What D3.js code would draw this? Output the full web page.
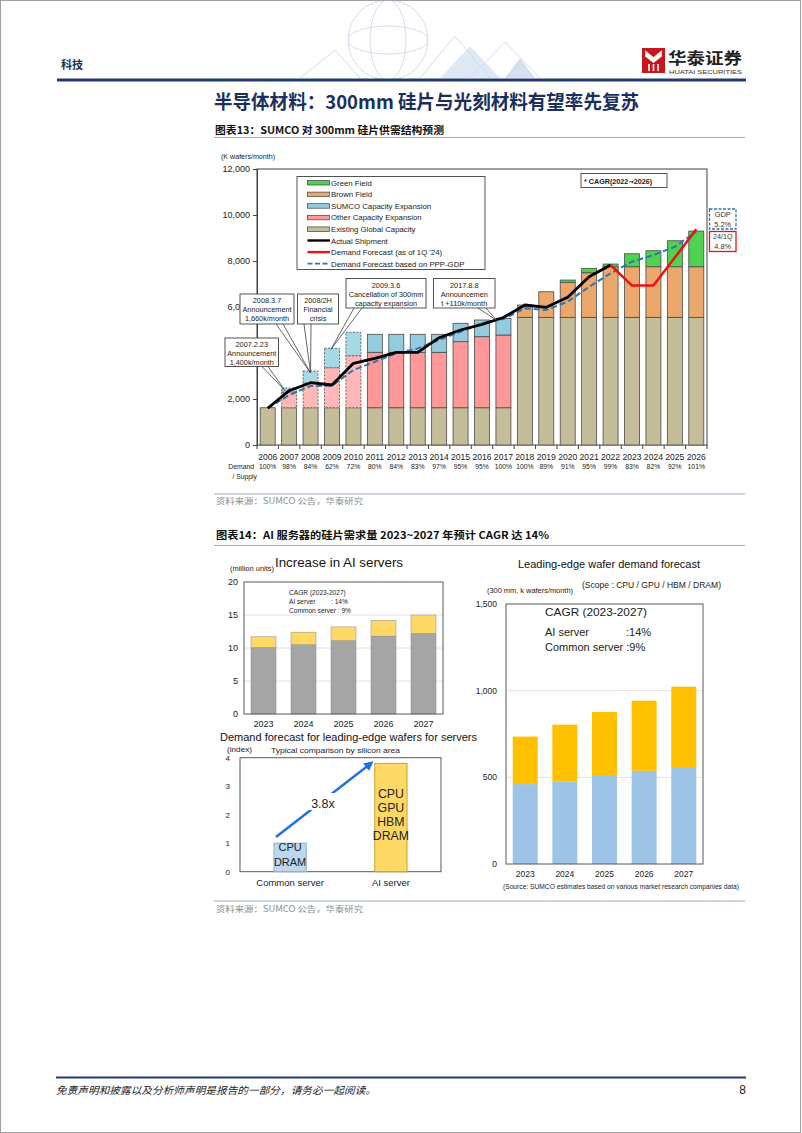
<!DOCTYPE html>
<html><head><meta charset="utf-8">
<script src="https://cdn.jsdelivr.net/npm/d3@7"></script>
<style>body{margin:0;background:#fff}svg{display:block}</style>
</head><body>
<svg id="page" width="802" height="1133"></svg>
<script>
// ---------------- DATA ----------------
// Figure 13: SUMCO 300mm supply/demand
const years = ["2006","2007","2008","2009","2010","2011","2012","2013","2014","2015","2016","2017","2018","2019","2020","2021","2022","2023","2024","2025","2026"];
const existingCapacity = [1620,1620,1620,1620,1620,1620,1620,1620,1620,1620,1620,1620,5550,5550,5550,5550,5550,5550,5550,5550,5550];
const otherExpansion   = [0,684,1076,1741,2263,2410,2410,2410,2410,2871,3089,3163,0,0,0,0,0,0,0,0,0];
const sumcoExpansion   = [0,174,521,843,1017,783,783,783,783,800,726,726,0,0,0,0,0,0,0,0,0];
const brownField       = [0,0,0,0,0,0,0,0,0,0,0,0,535,1113,1522,1939,2200,2200,2200,2200,2200];
const greenField       = [0,0,0,0,0,0,0,0,0,0,0,0,0,0,100,192,118,565,696,1131,1552];
const shipmentYears = ["2006","2007","2008","2009","2010","2011","2012","2013","2014","2015","2016","2017","2018","2019","2020","2021","2022"];
const actualShipment = [1596,2361,2709,2609,3552,3770,4030,4030,4665,5000,5248,5543,6087,5987,6422,7317,7826];
const forecastYears = ["2022","2023","2024","2025","2026"];
const forecast1Q24 = [7826,6930,6930,8150,9380];
const gdpForecast = [1600,2170,2565,2580,3260,3620,3985,4200,4565,4925,5290,5480,5940,5870,6230,6880,7465,7970,8260,8620,9275];
const demandSupply = ["100%","98%","84%","62%","72%","80%","84%","83%","97%","95%","95%","100%","100%","89%","91%","95%","99%","83%","82%","92%","101%"];
const dashedYears = ["2007","2008","2009","2010"];
const yTicks1 = [0,2000,4000,6000,8000,10000,12000];
const hiddenTicks1 = [4000,6000]; // covered by callout boxes in the original

// Figure 14
const aiYears = ["2023","2024","2025","2026","2027"];
const commonServers = [10.05,10.5,11.1,11.8,12.2];
const aiServers = [1.65,1.9,2.1,2.4,2.8];
const yTicksServers = [0,5,10,15,20];
const serverTypes = ["Common server","AI server"];
const siliconIndex = [1,3.8];
const yTicksIndex = [0,1,2,3,4];
const commonWafers = [461,477,508,538,554];
const aiWafers = [274,327,369,404,469];
const yTicksWafers = [0,500,1000,1500];

// ---------------- SETUP ----------------
const ARIAL = "Arial, 'Liberation Sans', Helvetica, sans-serif";
const NARROW = "'Liberation Sans Narrow', 'Arial Narrow', Arial, 'Liberation Sans', sans-serif";
const CJK = "'Noto Sans CJK SC', 'Noto Sans CJK TC', sans-serif";
const svg = d3.select("#page");
svg.append("rect").attr("x",0.5).attr("y",0.5).attr("width",800).attr("height",1132).attr("fill","#fff").attr("stroke","#a0a0a0");
const defs = svg.append("defs");

function txt(g, x, y, s, o={}) {
  const t = g.append("text").attr("x",x).attr("y",y).text(s)
    .attr("font-family", o.ff || ARIAL).attr("font-size", o.fs || 9)
    .attr("fill", o.fill || "#000").attr("text-anchor", o.anchor || "start");
  if (o.fw) t.attr("font-weight", o.fw);
  if (o.tl) t.attr("textLength", o.tl).attr("lengthAdjust","spacingAndGlyphs");
  if (o.style) t.attr("font-style", o.style);
  return t;
}

// ---------------- PAGE HEADER ----------------
const hdr = svg.append("g");
const deco = hdr.append("g").attr("opacity",0.45).attr("fill","none").attr("stroke","#9fb6d6").attr("stroke-width",1);
deco.append("circle").attr("cx",388).attr("cy",40).attr("r",40);
deco.append("ellipse").attr("cx",388).attr("cy",40).attr("rx",18).attr("ry",40);
deco.append("ellipse").attr("cx",388).attr("cy",40).attr("rx",40).attr("ry",14);
deco.append("path").attr("d","M300,78 L335,50 L360,78 M420,78 L455,36 L490,78 M470,78 L505,42 L540,78");
hdr.append("path").attr("d","M440,78 L470,46 L500,78 Z").attr("fill","#c9daf0").attr("opacity",0.6);
hdr.append("path").attr("d","M505,78 L520,58 L535,78 Z").attr("fill","#b7cbe6").attr("opacity",0.6);

txt(hdr, 61, 69, "科技", {ff:CJK, fs:11, fw:"bold", fill:"#1b2f5f"});
hdr.append("rect").attr("x",642).attr("y",48).attr("width",23).attr("height",25).attr("fill","#c8161d");
hdr.append("path").attr("d","M646,52 L653.5,58 L661,52 L661,56 L653.5,62 L646,56 Z M649,64 L649,71 M658,64 L658,71 M653.5,64 L653.5,71")
  .attr("fill","#fff").attr("stroke","#fff").attr("stroke-width",1.6);
txt(hdr, 668, 63.5, "华泰证券", {ff:CJK, fs:15.5, fw:"bold", fill:"#222", tl:74});
txt(hdr, 669, 74, "HUATAI SECURITIES", {fs:5.2, fill:"#333", tl:73});
hdr.append("line").attr("x1",57).attr("x2",746).attr("y1",80).attr("y2",80).attr("stroke","#1f3b70").attr("stroke-width",3);

txt(svg, 214, 109, "半导体材料：300mm 硅片与光刻材料有望率先复苏", {ff:CJK, fs:19, fw:"bold", fill:"#1b2f5f", tl:425});
txt(svg, 215, 133.5, "图表13：SUMCO 对 300mm 硅片供需结构预测", {ff:CJK, fs:10.5, fw:"bold", fill:"#111", tl:229});
const sep = (y)=> svg.append("line").attr("x1",214).attr("x2",745).attr("y1",y).attr("y2",y).attr("stroke","#9aabc4").attr("stroke-width",1);
sep(137.5); sep(494); sep(545.5); sep(901);
txt(svg, 216, 504, "资料来源：SUMCO 公告，华泰研究", {ff:CJK, fs:8.5, fill:"#8c8c8c", tl:147});
txt(svg, 216, 912, "资料来源：SUMCO 公告，华泰研究", {ff:CJK, fs:8.5, fill:"#8c8c8c", tl:147});
txt(svg, 216, 538.5, "图表14：AI 服务器的硅片需求量 2023~2027 年预计 CAGR 达 14%", {ff:CJK, fs:10.5, fw:"bold", fill:"#111", tl:333});

svg.append("line").attr("x1",56).attr("x2",746).attr("y1",1077.5).attr("y2",1077.5).attr("stroke","#1f3b70").attr("stroke-width",2.2);
txt(svg, 56, 1094, "免责声明和披露以及分析师声明是报告的一部分，请务必一起阅读。", {ff:CJK, fs:10, fill:"#222", style:"italic", tl:320});
txt(svg, 746, 1094, "8", {fs:12, anchor:"end", fill:"#222"});

// ---------------- FIGURE 13 ----------------
const c1 = svg.append("g");
const x1 = d3.scaleBand().domain(years).range([257,707]).paddingInner(0.3).paddingOuter(0.15);
const y1 = d3.scaleLinear().domain([0,12000]).range([445,169]);
const bw1 = x1.bandwidth();
const rows = years.map((yr,i)=>({year:yr, existing:existingCapacity[i], other:otherExpansion[i], sumco:sumcoExpansion[i], brown:brownField[i], green:greenField[i]}));
const keys = ["existing","other","sumco","brown","green"];
const colors1 = {existing:"#c4bd97", other:"#ff9999", sumco:"#93cddd", brown:"#eba76c", green:"#4fd24f"};
const planned = {other:"#ffb7b7", sumco:"#a6d8e6"};
const stacked = d3.stack().keys(keys)(rows);

c1.append("rect").attr("x",257).attr("y",169).attr("width",450).attr("height",276).attr("fill","none").attr("stroke","#404040").attr("stroke-width",1);

stacked.forEach(s=>{
  c1.append("g").selectAll("rect").data(s.filter(d=>d[1]-d[0]>0)).join("rect")
    .attr("x",d=>x1(d.data.year)).attr("width",bw1)
    .attr("y",d=>y1(d[1])).attr("height",d=>y1(d[0])-y1(d[1]))
    .attr("fill",d=>(planned[s.key] && dashedYears.includes(d.data.year)) ? planned[s.key] : colors1[s.key])
    .attr("stroke","#4a4a4a").attr("stroke-width",0.8)
    .attr("stroke-dasharray",d=>(planned[s.key] && dashedYears.includes(d.data.year)) ? "2,1.5" : null);
});

const yAx = c1.append("g").attr("transform","translate(257,0)")
  .call(d3.axisLeft(y1).tickValues(yTicks1).tickFormat(d=> hiddenTicks1.includes(d) ? "" : d3.format(",")(d)).tickSize(4).tickPadding(3));
yAx.select(".domain").attr("stroke","#404040");
yAx.selectAll("line").attr("stroke","#404040");
yAx.selectAll("text").attr("font-family",ARIAL).attr("font-size",9).attr("fill","#222");
// 6,000 label: only its visible part "6,0" shows beside the callout box
c1.append("text").attr("x",227.5).attr("y",y1(6000)).attr("dy","0.32em")
  .attr("font-family",ARIAL).attr("font-size",9).attr("fill","#222").text(d3.format(",")(6000).slice(0,3));

const bounds = years.map(yr=>x1(yr) - x1.step()*x1.paddingInner()/2).concat([707]);
c1.append("g").selectAll("line").data(bounds).join("line")
  .attr("x1",d=>d).attr("x2",d=>d).attr("y1",445).attr("y2",449).attr("stroke","#404040");
c1.append("g").selectAll("text").data(years).join("text")
  .attr("x",d=>x1(d)+bw1/2).attr("y",459.5).attr("text-anchor","middle")
  .attr("font-family",ARIAL).attr("font-size",8.6).attr("fill","#222").text(d=>d);
c1.append("g").selectAll("text").data(demandSupply).join("text")
  .attr("x",(d,i)=>x1(years[i])+bw1/2).attr("y",468.5).attr("text-anchor","middle")
  .attr("font-family",ARIAL).attr("font-size",6.8).attr("fill","#222").text(d=>d);
txt(c1, 254, 468.5, "Demand", {fs:6.8, anchor:"end", fill:"#222"});
txt(c1, 257, 479, "/ Supply", {fs:6.8, anchor:"end", fill:"#222"});
txt(c1, 221, 159, "(K wafers/month)", {fs:6.6, fill:"#222", tl:54});

const lineGen = d3.line().x(d=>x1(d[0])+bw1/2).y(d=>y1(d[1]));
c1.append("path").datum(years.map((yr,i)=>[yr,gdpForecast[i]])).attr("d",lineGen)
  .attr("fill","none").attr("stroke","#2e75b6").attr("stroke-width",2).attr("stroke-dasharray","6,3");
c1.append("path").datum(shipmentYears.map((yr,i)=>[yr,actualShipment[i]])).attr("d",lineGen)
  .attr("fill","none").attr("stroke","#000").attr("stroke-width",2.8).attr("stroke-linejoin","round");
c1.append("path").datum(forecastYears.map((yr,i)=>[yr,forecast1Q24[i]])).attr("d",lineGen)
  .attr("fill","none").attr("stroke","#ee1111").attr("stroke-width",2.5).attr("stroke-linejoin","round");

// legend
const lg = c1.append("g");
lg.append("rect").attr("x",297).attr("y",176.5).attr("width",188).attr("height",93).attr("fill","#fff").attr("stroke","#404040").attr("stroke-width",0.9);
const legendItems = [
  ["Green Field","rect",colors1.green],["Brown Field","rect",colors1.brown],["SUMCO Capacity Expansion","rect",colors1.sumco],
  ["Other Capacity Expansion","rect",colors1.other],["Existing Global Capacity","rect",colors1.existing],
  ["Actual Shipment","line","#000"],["Demand Forecast (as of 1Q '24)","line","#ee1111"],["Demand Forecast based on PPP-GDP","dash","#2e75b6"]];
legendItems.forEach((it,i)=>{
  const yy = 182.5 + i*11.6;
  if (it[1]==="rect") lg.append("rect").attr("x",307.5).attr("y",yy-2).attr("width",22).attr("height",4.5).attr("fill",it[2]).attr("stroke","#404040").attr("stroke-width",0.7);
  else lg.append("line").attr("x1",307.5).attr("x2",330).attr("y1",yy).attr("y2",yy).attr("stroke",it[2]).attr("stroke-width",it[1]==="dash"?1.8:2.4).attr("stroke-dasharray",it[1]==="dash"?"5,2.5":null);
  txt(lg, 331, yy+3, it[0], {fs:7.8, fill:"#222"});
});

// CAGR note
c1.append("rect").attr("x",581).attr("y",173.5).attr("width",86).attr("height",14).attr("fill","#fff").attr("stroke","#404040").attr("stroke-width",0.9);
const cagrT = txt(c1, 584, 183.5, "", {fs:7.2, fw:"bold", fill:"#222"});
cagrT.append("tspan").text("* CAGR(2022");
cagrT.append("tspan").attr("font-family","'DejaVu Sans', sans-serif").attr("font-size",6.5).text("→");
cagrT.append("tspan").text("2026)");
c1.append("rect").attr("x",709.5).attr("y",209).attr("width",26.5).attr("height",20).attr("fill","#fff").attr("stroke","#2e75b6").attr("stroke-width",1.3).attr("stroke-dasharray","3,1.5");
txt(c1, 722.7, 216.8, "GDP", {fs:7.4, anchor:"middle", fill:"#333"});
txt(c1, 722.7, 226.5, "5.2%", {fs:7.4, anchor:"middle", fill:"#333"});
c1.append("rect").attr("x",709.5).attr("y",231.5).attr("width",26.5).attr("height",20).attr("fill","#fff").attr("stroke","#ee1111").attr("stroke-width",1.3);
txt(c1, 722.7, 239.3, "24/1Q", {fs:7.2, anchor:"middle", fill:"#333"});
txt(c1, 722.7, 249, "4.8%", {fs:7.4, anchor:"middle", fill:"#333"});

// callouts
function callout(bx, by, w, h, lines, b1, b2, tx, ty) {
  const g = c1.append("g");
  g.append("path").attr("d",`M${b1},${by+h} L${tx},${ty} L${b2},${by+h}`).attr("fill","#fff").attr("stroke","#404040").attr("stroke-width",0.8);
  g.append("rect").attr("x",bx).attr("y",by).attr("width",w).attr("height",h).attr("fill","#fff").attr("stroke","#404040").attr("stroke-width",0.9);
  lines.forEach((l,i)=> txt(g, bx+w/2, by+9 + i*9.2, l, {fs:7.3, anchor:"middle", fill:"#222"}));
}
const cx = yr => x1(yr)+bw1/2;
callout(225, 338, 53.5, 28.5, ["2007.2.23","Announcement","1,400k/month"], 262, 268, cx("2007")-4, y1(2450)+2);
callout(240, 294, 54, 30, ["2008.3.7","Announcement","1,660k/month"], 276, 283, cx("2008"), y1(3217)+2);
callout(297.5, 294, 41, 30, ["2008/2H","Financial","crisis"], 304, 311, cx("2008"), y1(3217)+2);
callout(346, 278.5, 80, 29.5, ["2009.3.6","Cancellation  of 300mm","capacity  expansion"], 354, 362, cx("2009")-1, y1(4204)+1);
callout(433.5, 278.5, 61.5, 29.5, ["2017.8.8","Announcemen","t +110k/month"], 478, 486, cx("2017")-7, y1(5509)+2);

// ---------------- FIGURE 14: AI servers ----------------
const c2 = svg.append("g");
const x2 = d3.scaleBand().domain(aiYears).range([244,443]).paddingInner(0.375).paddingOuter(0.175);
const y2 = d3.scaleLinear().domain([0,20]).range([714,582]);
c2.append("g").selectAll("line").data([5,10,15]).join("line")
  .attr("x1",244).attr("x2",443).attr("y1",d=>y2(d)).attr("y2",d=>y2(d)).attr("stroke","#e0e0e0");
c2.append("g").selectAll("rect").data(aiYears).join("rect")
  .attr("x",d=>x2(d)).attr("width",x2.bandwidth())
  .attr("y",(d,i)=>y2(commonServers[i])).attr("height",(d,i)=>y2(0)-y2(commonServers[i]))
  .attr("fill","#a5a5a5").attr("stroke","#8a8a8a").attr("stroke-width",0.5);
c2.append("g").selectAll("rect").data(aiYears).join("rect")
  .attr("x",d=>x2(d)).attr("width",x2.bandwidth())
  .attr("y",(d,i)=>y2(commonServers[i]+aiServers[i])).attr("height",(d,i)=>y2(commonServers[i])-y2(commonServers[i]+aiServers[i]))
  .attr("fill","#ffd966").attr("stroke","#8a8a8a").attr("stroke-width",0.5);
c2.append("rect").attr("x",244).attr("y",582).attr("width",199).attr("height",132).attr("fill","none").attr("stroke","#595959").attr("stroke-width",1);
c2.append("g").selectAll("text").data(yTicksServers).join("text")
  .attr("x",238).attr("y",d=>y2(d)+3.3).attr("text-anchor","end").attr("font-family",ARIAL).attr("font-size",9).attr("fill","#222").text(d=>d);
c2.append("g").selectAll("text").data(aiYears).join("text")
  .attr("x",d=>x2(d)+x2.bandwidth()/2).attr("y",727).attr("text-anchor","middle").attr("font-family",ARIAL).attr("font-size",9).attr("fill","#222").text(d=>d);
txt(c2, 275, 567, "Increase in AI servers", {fs:13.2, fill:"#111", tl:128});
txt(c2, 230, 570.5, "(million units)", {fs:6.4, fill:"#222", tl:44});
txt(c2, 289, 595, "CAGR   (2023-2027)", {ff:NARROW, fs:6.6, fill:"#222"});
txt(c2, 289, 604, "AI server", {ff:NARROW, fs:6.6, fill:"#222"});
txt(c2, 331, 604, ":  14%", {ff:NARROW, fs:6.6, fill:"#222"});
txt(c2, 289, 613, "Common server :  9%", {ff:NARROW, fs:6.6, fill:"#222"});

// lower-left: silicon area index
const x3 = d3.scaleBand().domain(serverTypes).range([240,441]).paddingInner(0.68).paddingOuter(0.337);
const y3 = d3.scaleLinear().domain([0,4]).range([871.7,757.7]);
txt(c2, 220, 741, "Demand forecast for leading-edge wafers for servers", {fs:11.6, fill:"#111", tl:257});
txt(c2, 227, 752, "(index)", {fs:6.4, fill:"#222", tl:25});
txt(c2, 271, 753, "Typical comparison by silicon area", {fs:7.6, fill:"#222", tl:129});
c2.append("rect").attr("x",240).attr("y",757.7).attr("width",201).attr("height",114).attr("fill","#fff").attr("stroke","#595959").attr("stroke-width",1);
const barFill3 = ["#bdd7ee","#ffd966"];
const barStroke3 = ["#8eaed0","#c9a227"];
c2.append("g").selectAll("rect").data(serverTypes).join("rect")
  .attr("x",d=>x3(d)).attr("width",x3.bandwidth())
  .attr("y",(d,i)=>y3(siliconIndex[i])).attr("height",(d,i)=>y3(0)-y3(siliconIndex[i]))
  .attr("fill",(d,i)=>barFill3[i]).attr("stroke",(d,i)=>barStroke3[i]).attr("stroke-width",1);
c2.append("g").selectAll("text").data(yTicksIndex).join("text")
  .attr("x",230).attr("y",d=>y3(d)+3).attr("text-anchor","end").attr("font-family",ARIAL).attr("font-size",8).attr("fill","#222").text(d=>d);
c2.append("g").selectAll("text").data(serverTypes).join("text")
  .attr("x",d=>x3(d)+x3.bandwidth()/2).attr("y",885.5).attr("text-anchor","middle").attr("font-family",NARROW).attr("font-size",9.5).attr("fill","#222").text(d=>d);
const cCom = x3("Common server")+x3.bandwidth()/2, cAI = x3("AI server")+x3.bandwidth()/2;
txt(c2, cCom, 850.7, "CPU", {ff:NARROW, fs:11, anchor:"middle", fill:"#222"});
txt(c2, cCom, 865.7, "DRAM", {ff:NARROW, fs:11, anchor:"middle", fill:"#222"});
["CPU","GPU","HBM","DRAM"].forEach((s,i)=> txt(c2, cAI, 797.5 + i*14.3, s, {ff:NARROW, fs:12.3, anchor:"middle", fill:"#222"}));
defs.append("marker").attr("id","ah").attr("viewBox","0 0 10 10").attr("refX",5).attr("refY",5)
  .attr("markerWidth",4).attr("markerHeight",4).attr("orient","auto")
  .append("path").attr("d","M0,0 L10,5 L0,10 Z").attr("fill","#1f6fe5");
const ax0 = x3("Common server")+2, ay0 = y3(1.22), ax1 = x3("AI server")-5, ay1 = y3(3.77);
c2.append("line").attr("x1",ax0).attr("y1",ay0).attr("x2",ax1).attr("y2",ay1).attr("stroke","#1f6fe5").attr("stroke-width",2.4).attr("marker-end","url(#ah)");
c2.append("rect").attr("x",308).attr("y",793).attr("width",30).attr("height",17).attr("fill","#fff");
txt(c2, 323, 807.5, "3.8x", {ff:NARROW, fs:12.5, anchor:"middle", fill:"#222"});

// right: leading-edge wafer demand
const c3 = svg.append("g");
const x4 = d3.scaleBand().domain(aiYears).range([506,703]).paddingInner(0.37).paddingOuter(0.17);
const y4 = d3.scaleLinear().domain([0,1500]).range([864,604]);
c3.append("g").selectAll("line").data([500,1000]).join("line")
  .attr("x1",506).attr("x2",703).attr("y1",d=>y4(d)).attr("y2",d=>y4(d)).attr("stroke","#e3e3e3");
c3.append("g").selectAll("rect").data(aiYears).join("rect")
  .attr("x",d=>x4(d)).attr("width",x4.bandwidth())
  .attr("y",(d,i)=>y4(commonWafers[i])).attr("height",(d,i)=>y4(0)-y4(commonWafers[i])).attr("fill","#9dc3e6");
c3.append("g").selectAll("rect").data(aiYears).join("rect")
  .attr("x",d=>x4(d)).attr("width",x4.bandwidth())
  .attr("y",(d,i)=>y4(commonWafers[i]+aiWafers[i])).attr("height",(d,i)=>y4(commonWafers[i])-y4(commonWafers[i]+aiWafers[i])).attr("fill","#ffc000");
c3.append("rect").attr("x",506).attr("y",604).attr("width",197).attr("height",260).attr("fill","none").attr("stroke","#595959").attr("stroke-width",1);
c3.append("g").selectAll("text").data(yTicksWafers).join("text")
  .attr("x",497).attr("y",d=>y4(d)+3).attr("text-anchor","end").attr("font-family",ARIAL).attr("font-size",8.5).attr("fill","#222").text(d3.format(","));
c3.append("g").selectAll("text").data(aiYears).join("text")
  .attr("x",d=>x4(d)+x4.bandwidth()/2).attr("y",877).attr("text-anchor","middle").attr("font-family",ARIAL).attr("font-size",8.5).attr("fill","#222").text(d=>d);
txt(c3, 609, 567.5, "Leading-edge wafer demand forecast", {fs:11.5, anchor:"middle", fill:"#111", tl:182});
txt(c3, 582, 588, "(Scope : CPU / GPU / HBM / DRAM)", {ff:NARROW, fs:8.4, fill:"#222", tl:139});
txt(c3, 487, 593, "(300 mm, k wafers/month)", {ff:NARROW, fs:7, fill:"#222", tl:86});
txt(c3, 545, 616, "CAGR (2023-2027)", {fs:11.8, fill:"#222", tl:102});
txt(c3, 545, 636, "AI server", {fs:11, fill:"#222"});
txt(c3, 626, 636, ":14%", {fs:11, fill:"#222"});
txt(c3, 545, 650.5, "Common server  :9%", {fs:11, fill:"#222"});
txt(c3, 503, 888.5, "(Source: SUMCO estimates based on various market research companies data)", {ff:NARROW, fs:7.2, fill:"#222", tl:236});
</script>
</body></html>
